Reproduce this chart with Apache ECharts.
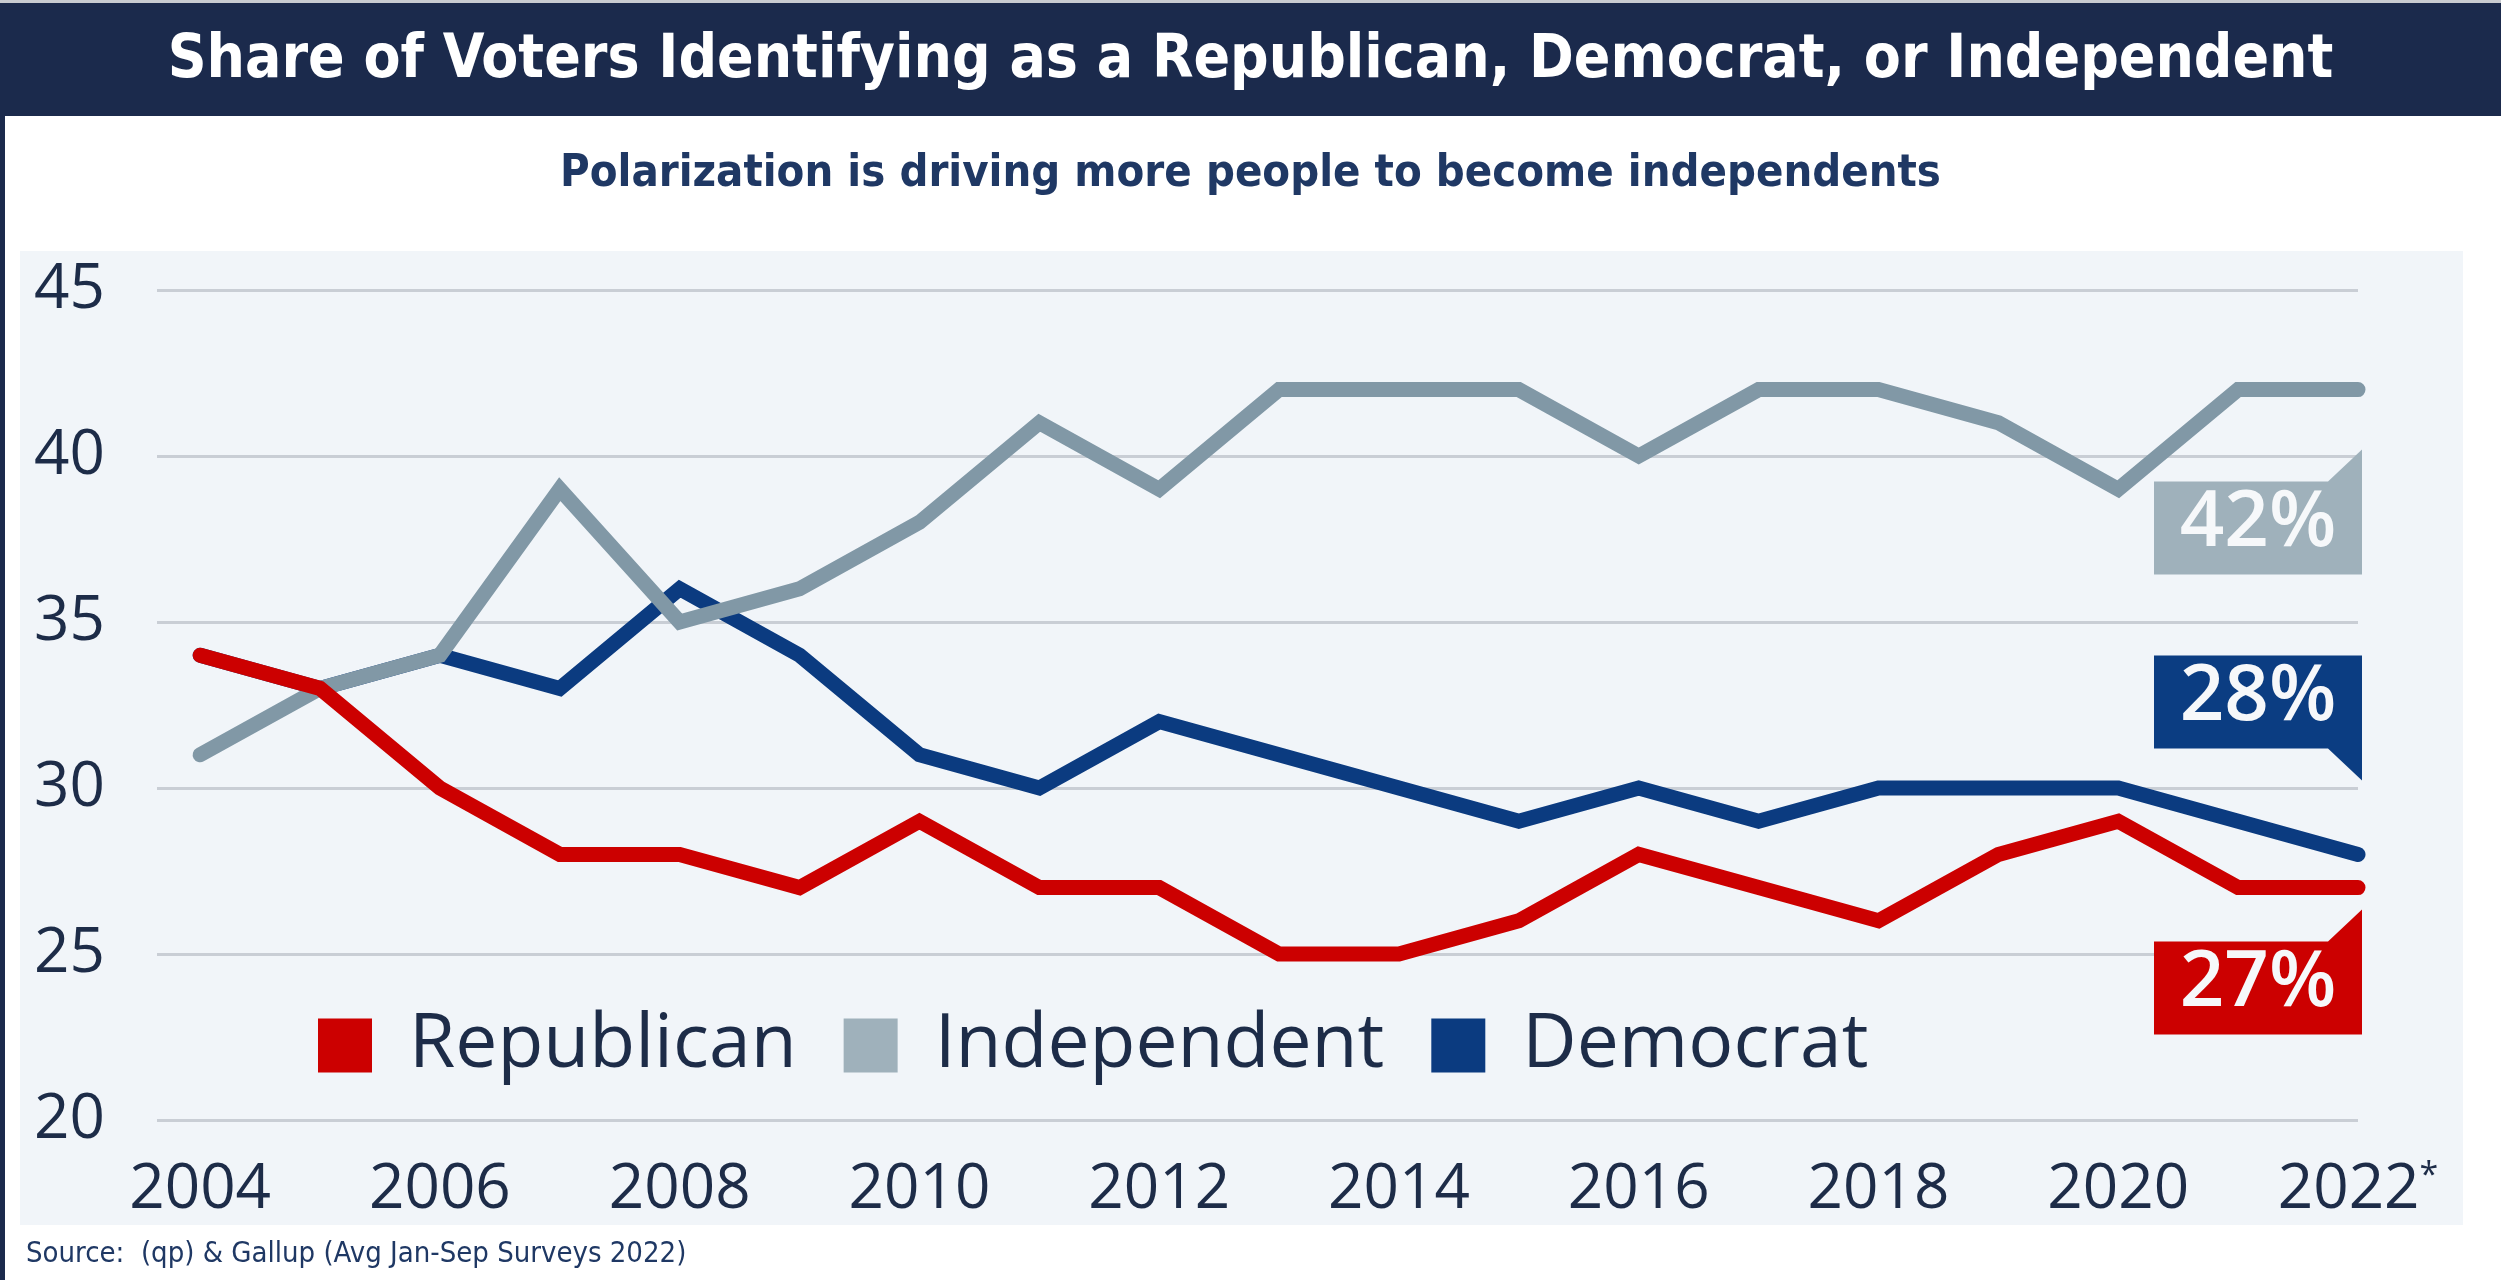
<!DOCTYPE html>
<html>
<head>
<meta charset="utf-8">
<script src="https://cdn.jsdelivr.net/npm/echarts@6/dist/echarts.min.js"></script>
<style>
  html, body { margin: 0; padding: 0; background: #ffffff; }
  #chart { width: 2501px; height: 1280px; }
</style>
</head>
<body>
<div id="chart"></div>
<script>
// Party identification shares (%), Gallup annual averages
const years = [2004, 2005, 2006, 2007, 2008, 2009, 2010, 2011, 2012, 2013,
               2014, 2015, 2016, 2017, 2018, 2019, 2020, 2021, 2022];
const republican  = [34, 33, 30, 28, 28, 27, 29, 27, 27, 25, 25, 26, 28, 27, 26, 28, 29, 27, 27];
const independent = [31, 33, 34, 39, 35, 36, 38, 41, 39, 42, 42, 42, 40, 42, 42, 41, 39, 42, 42];
const democrat    = [34, 33, 34, 33, 36, 34, 31, 30, 32, 31, 30, 29, 30, 29, 30, 30, 30, 29, 28];

const xTickYears = [2004, 2006, 2008, 2010, 2012, 2014, 2016, 2018, 2020, 2022];
const yTicks = [20, 25, 30, 35, 40, 45];

const seriesNames = ['Republican', 'Independent', 'Democrat'];

const NAVY = '#1b2a4c';
const TEXT = '#1d2c48';
const HEAD_FONT = '"DejaVu Sans Condensed", "Liberation Sans Narrow", sans-serif';
const BODY_FONT = '"Open Sans", sans-serif';
const LINE_COLORS = { Republican: '#cc0000', Independent: '#8198a6', Democrat: '#0b3b80' };
const SWATCH_COLORS = { Republican: '#cc0000', Independent: '#9fb1bb', Democrat: '#0b3b80' };

// Callout boxes next to the last point of each line
const callout = {
  Independent: { color: '#9fb1bb', anchor: 'top', dy: 92, notch: 'up' },
  Democrat:    { color: '#0b3d82', anchor: 'bottom', dy: -106, notch: 'down' },
  Republican:  { color: '#cc0000', anchor: 'top', dy: 54, notch: 'up' }
};

const pairs = arr => years.map((y, i) => [y, arr[i]]);
const last = arr => arr[arr.length - 1];

const chart = echarts.init(document.getElementById('chart'), null, { renderer: 'canvas' });

function lineSeries(name, values, z) {
  return {
    name: name,
    type: 'line',
    data: pairs(values),
    showSymbol: false,
    symbol: 'none',
    z: z,
    lineStyle: { color: LINE_COLORS[name], width: 15, cap: 'round', join: 'miter' },
    itemStyle: { color: SWATCH_COLORS[name] },
    emphasis: { disabled: true },
    animation: false
  };
}

const calloutNames = ['Independent', 'Democrat', 'Republican'];
const calloutData = [
  [last(years), last(independent)],
  [last(years), last(democrat)],
  [last(years), last(republican)]
];

const option = {
  backgroundColor: '#ffffff',
  animation: false,
  graphic: {
    elements: [
      { type: 'rect', z: -10, silent: true, shape: { x: 0, y: 0, width: 2501, height: 3 }, style: { fill: '#c9ccd1' } },
      { type: 'rect', z: -9, silent: true, shape: { x: 0, y: 3, width: 2501, height: 113 }, style: { fill: NAVY } },
      { type: 'rect', z: -9, silent: true, shape: { x: 0, y: 3, width: 5, height: 1277 }, style: { fill: NAVY } },
      { type: 'rect', z: -10, silent: true, shape: { x: 20, y: 251, width: 2443, height: 974 }, style: { fill: '#f1f5f9' } }
    ]
  },
  title: [
    {
      text: 'Share of Voters Identifying as a Republican, Democrat, or Independent',
      left: 'center', top: 31, padding: 0,
      textStyle: { color: '#ffffff', fontSize: 60, lineHeight: 60, fontWeight: 'bold', fontFamily: HEAD_FONT }
    },
    {
      text: 'Polarization is driving more people to become independents',
      left: 'center', top: 152, padding: 0,
      textStyle: { color: '#1f3864', fontSize: 45, lineHeight: 45, fontWeight: 'bold', fontFamily: HEAD_FONT }
    },
    {
      text: 'Source:  (qp) & Gallup (Avg Jan-Sep Surveys 2022)',
      left: 26, top: 1240, padding: 0,
      textStyle: { color: '#1f3864', fontSize: 29, lineHeight: 29, fontWeight: 'normal', fontFamily: HEAD_FONT }
    }
  ],
  legend: {
    data: seriesNames.map(n => ({ name: n, itemStyle: { color: SWATCH_COLORS[n] } })),
    left: 318, top: 1008, padding: 0,
    icon: 'rect', itemWidth: 54, itemHeight: 54, itemGap: 47,
    selectedMode: false,
    textStyle: { color: TEXT, fontSize: 75, lineHeight: 75, fontFamily: BODY_FONT, padding: [0, 0, 0, 32] }
  },
  grid: { left: 157, right: 143, top: 290, bottom: 160, containLabel: false },
  xAxis: {
    type: 'value', min: 2003.64, max: 2022,
    axisLine: { show: false }, axisTick: { show: false }, splitLine: { show: false },
    axisLabel: {
      customValues: xTickYears,
      margin: 39, color: TEXT, fontSize: 62, lineHeight: 62, fontFamily: BODY_FONT,
      formatter: v => (v === last(xTickYears) ? v + '{s|*}' : String(v)),
      rich: { s: { fontSize: 34, lineHeight: 62, verticalAlign: 'top', color: TEXT, fontFamily: BODY_FONT, padding: [0, 0, 20, 0] } }
    }
  },
  yAxis: {
    type: 'value', min: yTicks[0], max: yTicks[yTicks.length - 1], interval: 5,
    axisLine: { show: false }, axisTick: { show: false },
    splitLine: { lineStyle: { color: '#c9ced5', width: 3 } },
    axisLabel: { margin: 52, color: TEXT, fontSize: 62, fontFamily: BODY_FONT }
  },
  series: [
    lineSeries('Democrat', democrat, 2),
    lineSeries('Independent', independent, 3),
    lineSeries('Republican', republican, 4),
    {
      name: 'callouts',
      type: 'custom',
      z: 6,
      clip: false,
      silent: true,
      data: calloutData,
      renderItem: function (params, api) {
        const name = calloutNames[params.dataIndex];
        const c = callout[name];
        const pt = api.coord([api.value(0), api.value(1)]);
        const w = 208, h = 93, nw = 34, nh = 32;
        const right = pt[0] + 4, left = right - w;
        const top = c.anchor === 'top' ? pt[1] + c.dy : pt[1] + c.dy - h;
        const bottom = top + h;
        const pts = c.notch === 'up'
          ? [[left, top], [right - nw, top], [right, top - nh], [right, bottom], [left, bottom]]
          : [[left, top], [right, top], [right, bottom + nh], [right - nw, bottom], [left, bottom]];
        return {
          type: 'group',
          children: [
            { type: 'polygon', shape: { points: pts }, style: { fill: c.color } },
            {
              type: 'text',
              style: {
                text: api.value(1) + '%', x: (left + right) / 2, y: (top + bottom) / 2 - 4,
                align: 'center', verticalAlign: 'middle',
                fill: '#f6f8fa', font: '600 78px "Open Sans", sans-serif'
              }
            }
          ]
        };
      }
    }
  ]
};

chart.setOption(option);
</script>
</body>
</html>
